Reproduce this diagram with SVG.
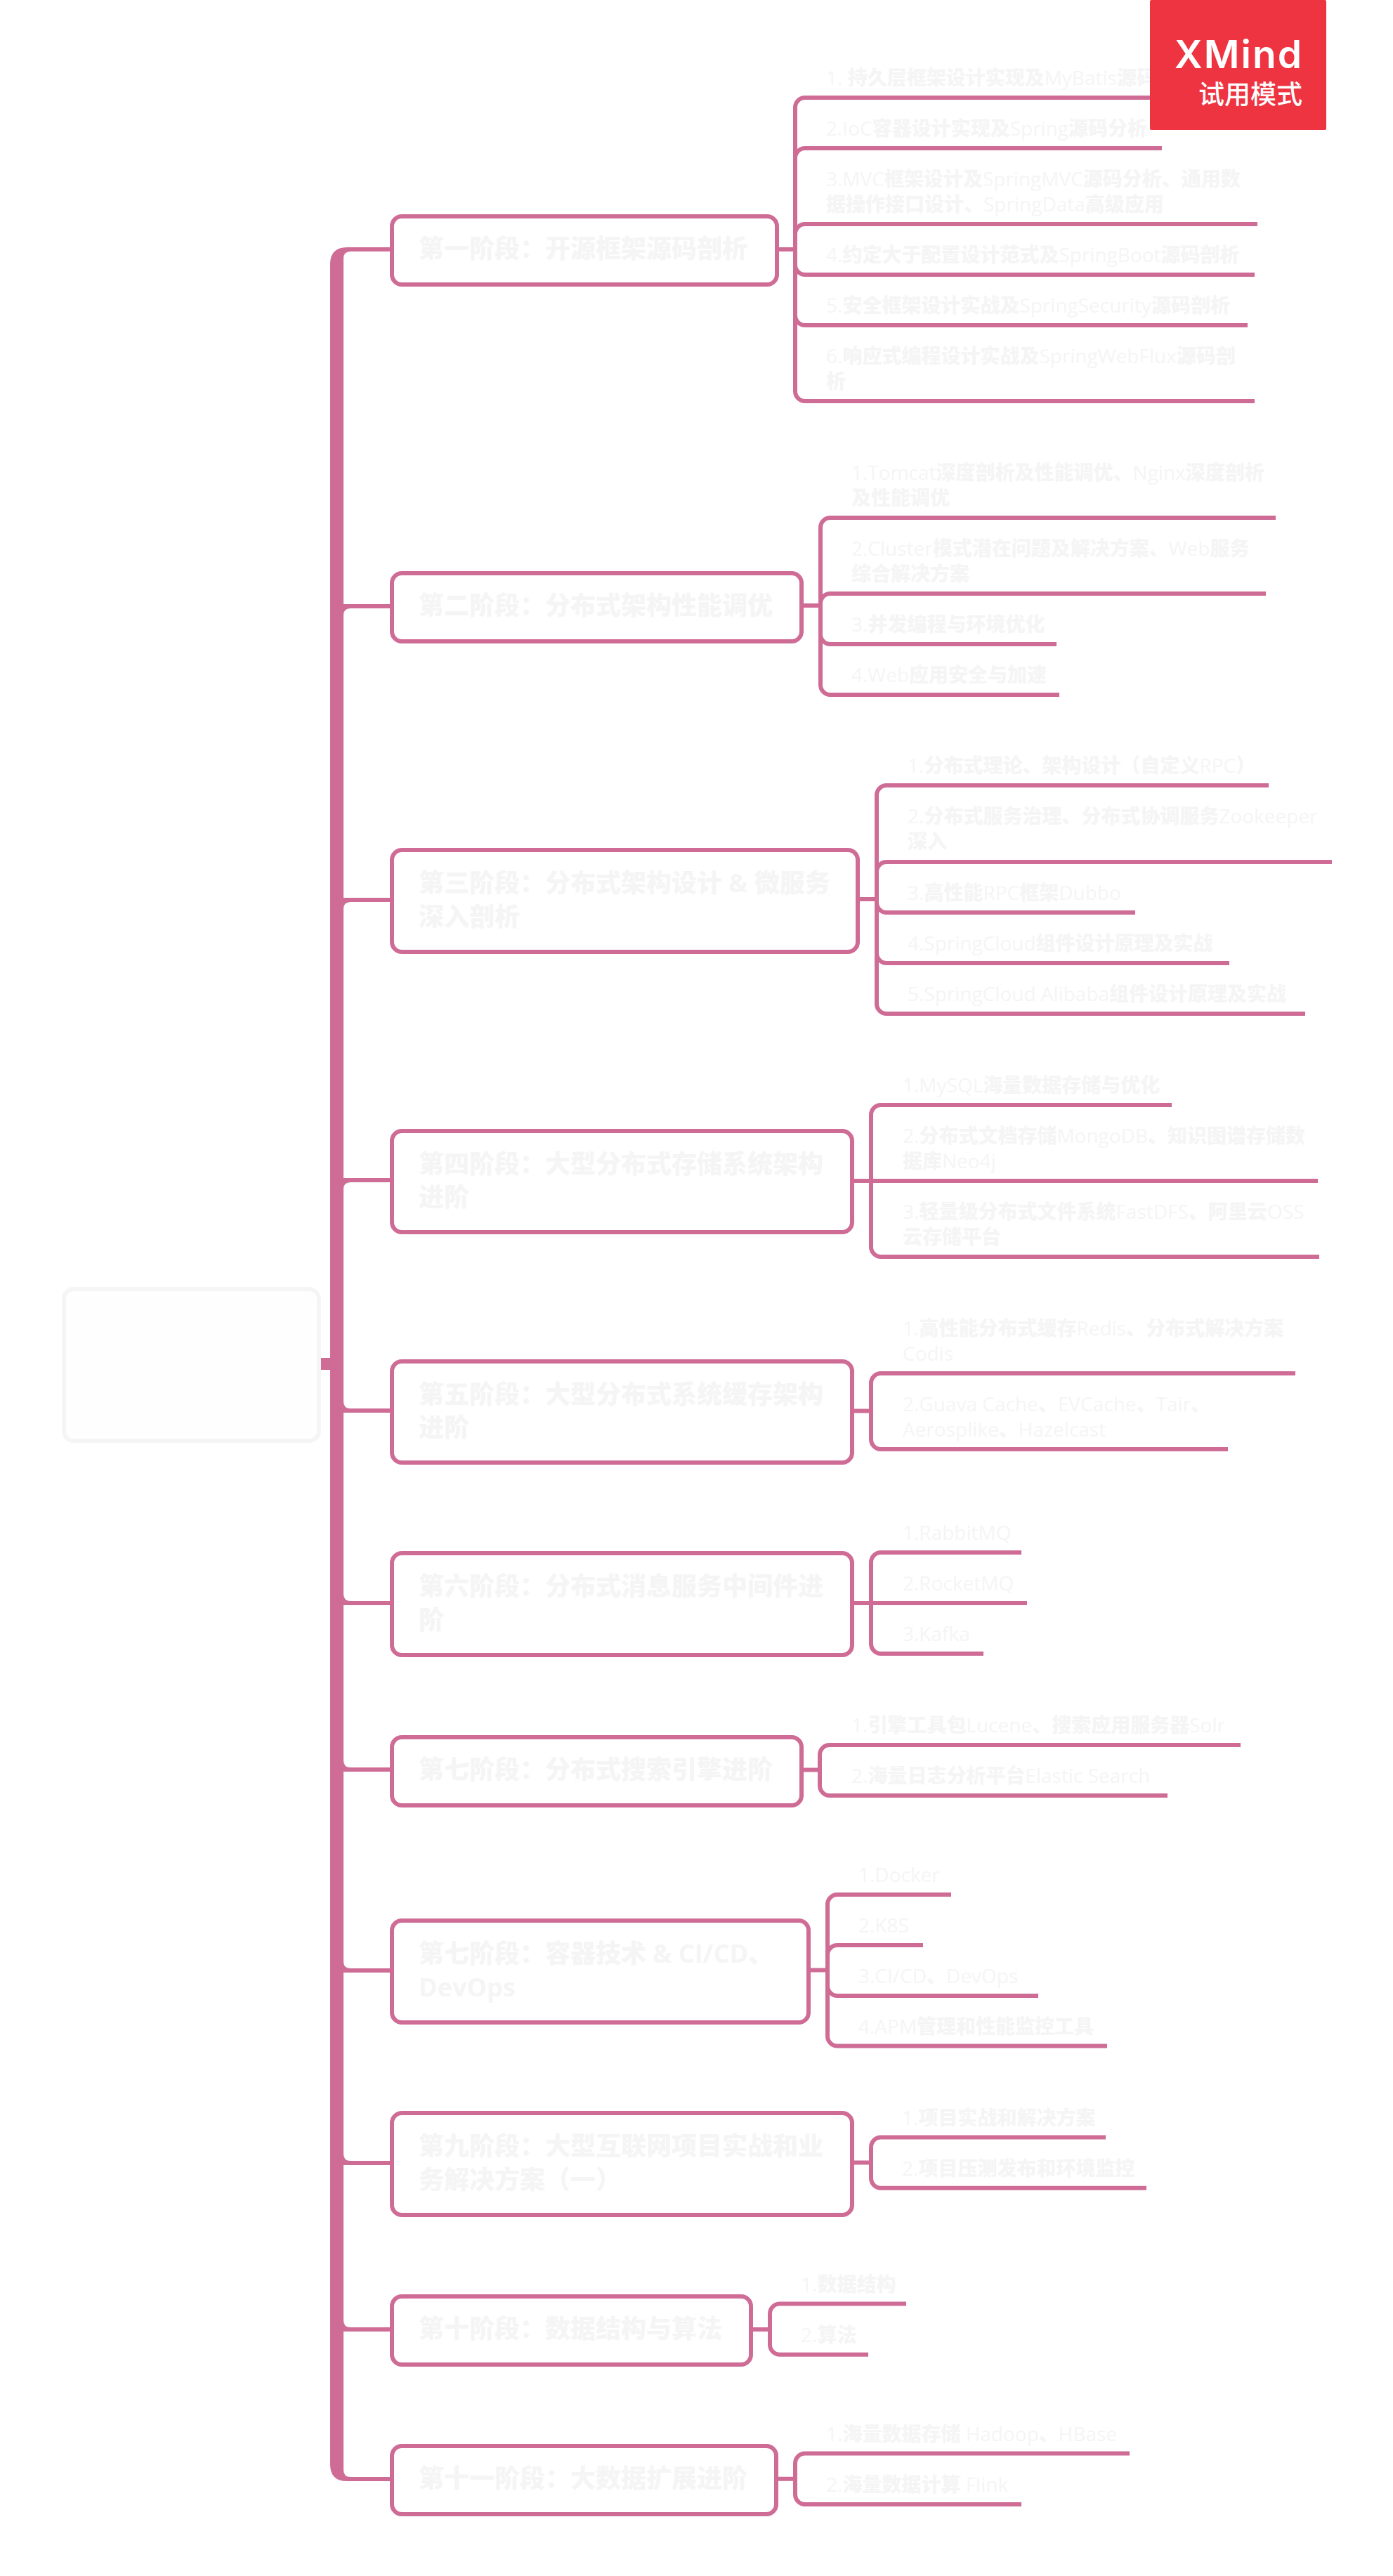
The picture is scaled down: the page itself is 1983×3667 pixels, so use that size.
<svg xmlns="http://www.w3.org/2000/svg" width="1983" height="3667" viewBox="0 0 1983 3667">
<style>
text{font-family:"Open Sans","Noto Sans CJK SC",sans-serif;fill:#f5f5f5;font-weight:900}
.t{font-size:36px}
.s{font-size:28px}
.l{font-weight:500}
.b{font-weight:700}
.box{fill:#fff;stroke:#cf6c96;stroke-width:6}
.c{fill:none;stroke:#cf6c96;stroke-width:6}
.x{fill:#fff;font-weight:600}
</style>
<rect width="1983" height="3667" fill="#fff"/>
<g id="connectors">
<path fill="#cf6c96" d="M470 376Q470 352 494 352H558V358H499Q489 358 489 368V3516Q489 3526 499 3526H558V3532H494Q470 3532 470 3508ZM456 1933H472V1950H456Z"/>
<path fill="#cf6c96" d="M489 860H558V866H499Q489 866 489 876ZM489 1278H558V1284H499Q489 1284 489 1294ZM489 1677H558V1683H499Q489 1683 489 1693ZM489 1995Q489 2005 499 2005H558V2011H489ZM489 2269Q489 2279 499 2279H558V2285H489ZM489 2506Q489 2516 499 2516H558V2522H489ZM489 2792Q489 2802 499 2802H558V2808H489ZM489 3066Q489 3076 499 3076H558V3082H489ZM489 3303Q489 3313 499 3313H558V3319H489Z"/>
<path class="c" d="M1106 355H1132M1132 355V153A14 14 0 0 1 1146 139H1740M1132 355V225A14 14 0 0 1 1146 211H1654M1132 355V333A14 14 0 0 1 1146 319H1790M1132 355V377A14 14 0 0 0 1146 391H1786M1132 355V449A14 14 0 0 0 1146 463H1776M1132 355V557A14 14 0 0 0 1146 571H1786"/>
<path class="c" d="M1141 862H1168M1168 862V751A14 14 0 0 1 1182 737H1816M1168 862V859A14 14 0 0 1 1182 845H1802M1168 862V903A14 14 0 0 0 1182 917H1504M1168 862V975A14 14 0 0 0 1182 989H1508"/>
<path class="c" d="M1221 1280H1248M1248 1280V1132A14 14 0 0 1 1262 1118H1806M1248 1280V1241A14 14 0 0 1 1262 1227H1896M1248 1280V1285A14 14 0 0 0 1262 1299H1616M1248 1280V1357A14 14 0 0 0 1262 1371H1750M1248 1280V1429A14 14 0 0 0 1262 1443H1858"/>
<path class="c" d="M1213 1681H1876M1240 1681V1587A14 14 0 0 1 1254 1573H1668M1240 1681V1775A14 14 0 0 0 1254 1789H1878"/>
<path class="c" d="M1213 2008.500H1240M1240 2008.500V1969A14 14 0 0 1 1254 1955H1844M1240 2008.500V2049A14 14 0 0 0 1254 2063H1748"/>
<path class="c" d="M1213 2282H1462M1240 2282V2224A14 14 0 0 1 1254 2210H1454M1240 2282V2340A14 14 0 0 0 1254 2354H1400"/>
<path class="c" d="M1141 2519.500H1167M1167 2519.500V2498A14 14 0 0 1 1181 2484H1766M1167 2519.500V2542A14 14 0 0 0 1181 2556H1662"/>
<path class="c" d="M1151 2804.500H1178M1178 2804.500V2711A14 14 0 0 1 1192 2697H1354M1178 2804.500V2783A14 14 0 0 1 1192 2769H1314M1178 2804.500V2827A14 14 0 0 0 1192 2841H1478M1178 2804.500V2898.500A14 14 0 0 0 1192 2912.500H1576"/>
<path class="c" d="M1213 3078.500H1240M1240 3078.500V3056.500A14 14 0 0 1 1254 3042.500H1574M1240 3078.500V3100.800A14 14 0 0 0 1254 3114.800H1632"/>
<path class="c" d="M1069 3316H1096M1096 3316V3293.500A14 14 0 0 1 1110 3279.500H1290M1096 3316V3337.800A14 14 0 0 0 1110 3351.800H1236"/>
<path class="c" d="M1105 3528.700H1132M1132 3528.700V3506.500A14 14 0 0 1 1146 3492.500H1608M1132 3528.700V3551A14 14 0 0 0 1146 3565H1454"/>
</g>
<g id="root"><rect x="91" y="1835" width="363" height="216" rx="14" fill="#fefefe" stroke="#f5f5f5" stroke-width="6"/></g>
<g id="topic1"><rect class="box" x="558" y="308" width="548" height="97" rx="14"/><text class="t" x="596" y="367">第一阶段：开源框架源码剖析</text></g>
<g id="topic2"><rect class="box" x="558" y="816" width="583" height="97" rx="14"/><text class="t" x="596" y="875">第二阶段：分布式架构性能调优</text></g>
<g id="topic3"><rect class="box" x="558" y="1210" width="663" height="145" rx="14"/><text class="t" x="596" y="1270">第三阶段：分布式架构设计 <tspan class="b">&amp;</tspan> 微服务</text><text class="t" x="596" y="1318">深入剖析</text></g>
<g id="topic4"><rect class="box" x="558" y="1610" width="655" height="144" rx="14"/><text class="t" x="596" y="1670">第四阶段：大型分布式存储系统架构</text><text class="t" x="596" y="1717">进阶</text></g>
<g id="topic5"><rect class="box" x="558" y="1938" width="655" height="144" rx="14"/><text class="t" x="596" y="1998">第五阶段：大型分布式系统缓存架构</text><text class="t" x="596" y="2045">进阶</text></g>
<g id="topic6"><rect class="box" x="558" y="2211" width="655" height="145" rx="14"/><text class="t" x="596" y="2271">第六阶段：分布式消息服务中间件进</text><text class="t" x="596" y="2319">阶</text></g>
<g id="topic7"><rect class="box" x="558" y="2473" width="583" height="97" rx="14"/><text class="t" x="596" y="2532">第七阶段：分布式搜索引擎进阶</text></g>
<g id="topic8"><rect class="box" x="558" y="2734" width="593" height="145" rx="14"/><text class="t" x="596" y="2794">第七阶段：容器技术 <tspan class="b">&amp; CI/CD</tspan>、</text><text class="t b" x="596" y="2842">DevOps</text></g>
<g id="topic9"><rect class="box" x="558" y="3008" width="655" height="145" rx="14"/><text class="t" x="596" y="3068">第九阶段：大型互联网项目实战和业</text><text class="t" x="596" y="3116">务解决方案（一）</text></g>
<g id="topic10"><rect class="box" x="558" y="3269" width="511" height="97" rx="14"/><text class="t" x="596" y="3328">第十阶段：数据结构与算法</text></g>
<g id="topic11"><rect class="box" x="558" y="3482" width="547" height="97" rx="14"/><text class="t" x="596" y="3541">第十一阶段：大数据扩展进阶</text></g>
<g id="sub1">
<text class="s" x="1176" y="121"><tspan class="l">1. </tspan>持久层框架设计实现及<tspan class="l">MyBatis</tspan>源码分析</text>
<text class="s" x="1176" y="193"><tspan class="l">2.IoC</tspan>容器设计实现及<tspan class="l">Spring</tspan>源码分析</text>
<text class="s" x="1176" y="265"><tspan class="l">3.MVC</tspan>框架设计及<tspan class="l">SpringMVC</tspan>源码分析、通用数</text>
<text class="s" x="1176" y="301">据操作接口设计、<tspan class="l">SpringData</tspan>高级应用</text>
<text class="s" x="1176" y="373"><tspan class="l">4.</tspan>约定大于配置设计范式及<tspan class="l">SpringBoot</tspan>源码剖析</text>
<text class="s" x="1176" y="445"><tspan class="l">5.</tspan>安全框架设计实战及<tspan class="l">SpringSecurity</tspan>源码剖析</text>
<text class="s" x="1176" y="517"><tspan class="l">6.</tspan>响应式编程设计实战及<tspan class="l">SpringWebFlux</tspan>源码剖</text>
<text class="s" x="1176" y="553">析</text>
</g>
<g id="sub2">
<text class="s" x="1212" y="683"><tspan class="l">1.Tomcat</tspan>深度剖析及性能调优、<tspan class="l">Nginx</tspan>深度剖析</text>
<text class="s" x="1212" y="719">及性能调优</text>
<text class="s" x="1212" y="791"><tspan class="l">2.Cluster</tspan>模式潜在问题及解决方案、<tspan class="l">Web</tspan>服务</text>
<text class="s" x="1212" y="827">综合解决方案</text>
<text class="s" x="1212" y="899"><tspan class="l">3.</tspan>并发编程与环境优化</text>
<text class="s" x="1212" y="971"><tspan class="l">4.Web</tspan>应用安全与加速</text>
</g>
<g id="sub3">
<text class="s" x="1292" y="1100"><tspan class="l">1.</tspan>分布式理论、架构设计（自定义<tspan class="l">RPC</tspan>）</text>
<text class="s" x="1292" y="1172"><tspan class="l">2.</tspan>分布式服务治理、分布式协调服务<tspan class="l">Zookeeper</tspan></text>
<text class="s" x="1292" y="1208">深入</text>
<text class="s" x="1292" y="1281"><tspan class="l">3.</tspan>高性能<tspan class="l">RPC</tspan>框架<tspan class="l">Dubbo</tspan></text>
<text class="s" x="1292" y="1353"><tspan class="l">4.SpringCloud</tspan>组件设计原理及实战</text>
<text class="s" x="1292" y="1425"><tspan class="l">5.SpringCloud Alibaba</tspan>组件设计原理及实战</text>
</g>
<g id="sub4">
<text class="s" x="1285" y="1555"><tspan class="l">1.MySQL</tspan>海量数据存储与优化</text>
<text class="s" x="1285" y="1627"><tspan class="l">2.</tspan>分布式文档存储<tspan class="l">MongoDB</tspan>、知识图谱存储数</text>
<text class="s" x="1285" y="1663">据库<tspan class="l">Neo4j</tspan></text>
<text class="s" x="1285" y="1735"><tspan class="l">3.</tspan>轻量级分布式文件系统<tspan class="l">FastDFS</tspan>、阿里云<tspan class="l">OSS</tspan></text>
<text class="s" x="1285" y="1771">云存储平台</text>
</g>
<g id="sub5">
<text class="s" x="1285" y="1901"><tspan class="l">1.</tspan>高性能分布式缓存<tspan class="l">Redis</tspan>、分布式解决方案</text>
<text class="s" x="1285" y="1937"><tspan class="l">Codis</tspan></text>
<text class="s" x="1285" y="2009"><tspan class="l">2.Guava Cache</tspan>、<tspan class="l">EVCache</tspan>、<tspan class="l">Tair</tspan>、</text>
<text class="s" x="1285" y="2045"><tspan class="l">Aerosplike</tspan>、<tspan class="l">Hazelcast</tspan></text>
</g>
<g id="sub6">
<text class="s l" x="1285" y="2192">1.RabbitMQ</text>
<text class="s l" x="1285" y="2264">2.RocketMQ</text>
<text class="s l" x="1285" y="2336">3.Kafka</text>
</g>
<g id="sub7">
<text class="s" x="1212" y="2466"><tspan class="l">1.</tspan>引擎工具包<tspan class="l">Lucene</tspan>、搜索应用服务器<tspan class="l">Solr</tspan></text>
<text class="s" x="1212" y="2538"><tspan class="l">2.</tspan>海量日志分析平台<tspan class="l">Elastic Search</tspan></text>
</g>
<g id="sub8">
<text class="s l" x="1222" y="2679">1.Docker</text>
<text class="s l" x="1222" y="2751">2.K8S</text>
<text class="s" x="1222" y="2823"><tspan class="l">3.CI/CD</tspan>、<tspan class="l">DevOps</tspan></text>
<text class="s" x="1222" y="2895"><tspan class="l">4.APM</tspan>管理和性能监控工具</text>
</g>
<g id="sub9">
<text class="s" x="1284" y="3025"><tspan class="l">1.</tspan>项目实战和解决方案</text>
<text class="s" x="1284" y="3097"><tspan class="l">2.</tspan>项目压测发布和环境监控</text>
</g>
<g id="sub10">
<text class="s" x="1140" y="3262"><tspan class="l">1.</tspan>数据结构</text>
<text class="s" x="1140" y="3334"><tspan class="l">2.</tspan>算法</text>
</g>
<g id="sub11">
<text class="s" x="1176" y="3475"><tspan class="l">1.</tspan>海量数据存储 <tspan class="l">Hadoop</tspan>、<tspan class="l">HBase</tspan></text>
<text class="s" x="1176" y="3547"><tspan class="l">2.</tspan>海量数据计算 <tspan class="l">Flink</tspan></text>
</g>
<g id="watermark">
<rect x="1637" y="0" width="251" height="185" rx="2" fill="#ee3441"/>
<text class="x" x="1672" y="97" font-size="55" textLength="181" style="font-family:Inter,sans-serif">XMind</text>
<text class="x" x="1706" y="148" font-size="37" style="font-weight:500">试用模式</text>
</g>
</svg>
